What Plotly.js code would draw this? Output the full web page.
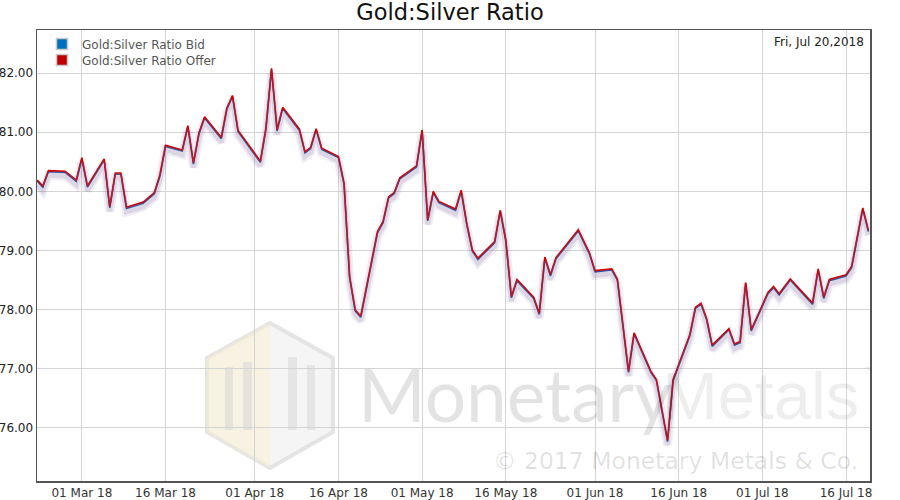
<!DOCTYPE html>
<html>
<head>
<meta charset="utf-8">
<script src="https://cdn.plot.ly/plotly-3.0.1.min.js"></script>
<style>html,body{margin:0;padding:0;background:#fff}#chart{width:900px;height:500px}</style>
</head>
<body>
<div id="chart"></div>
<script>
const dates = ["2018-02-21","2018-02-22","2018-02-23","2018-02-26","2018-02-28","2018-03-01","2018-03-02","2018-03-05","2018-03-06","2018-03-07",
"2018-03-08","2018-03-09","2018-03-12","2018-03-14","2018-03-15","2018-03-16","2018-03-19","2018-03-20","2018-03-21","2018-03-22",
"2018-03-23","2018-03-26","2018-03-27","2018-03-28","2018-03-29","2018-04-02","2018-04-03","2018-04-04","2018-04-05","2018-04-06",
"2018-04-09","2018-04-10","2018-04-11","2018-04-12","2018-04-13","2018-04-16","2018-04-17","2018-04-18","2018-04-19","2018-04-20",
"2018-04-23","2018-04-24","2018-04-25","2018-04-26","2018-04-27","2018-04-30","2018-05-01","2018-05-02","2018-05-03","2018-05-04",
"2018-05-07","2018-05-08","2018-05-09","2018-05-10","2018-05-11","2018-05-14","2018-05-15","2018-05-16","2018-05-17","2018-05-18",
"2018-05-21","2018-05-22","2018-05-23","2018-05-24","2018-05-25","2018-05-29","2018-05-31","2018-06-01","2018-06-04","2018-06-05",
"2018-06-07","2018-06-08","2018-06-11","2018-06-12","2018-06-14","2018-06-15","2018-06-18","2018-06-19","2018-06-20","2018-06-21",
"2018-06-22","2018-06-25","2018-06-26","2018-06-27","2018-06-28","2018-06-29","2018-07-02","2018-07-03","2018-07-04","2018-07-06",
"2018-07-10","2018-07-11","2018-07-12","2018-07-13","2018-07-16","2018-07-17","2018-07-19","2018-07-20"];

const bid = [80.17,80.07,80.33,80.32,80.17,80.55,80.07,80.53,79.72,80.29,
80.29,79.71,79.80,79.96,80.26,80.76,80.68,81.09,80.46,80.97,
81.24,80.89,81.39,81.60,81.01,80.49,81.05,82.06,81.02,81.40,
81.03,80.65,80.72,81.04,80.71,80.57,80.12,78.54,77.98,77.87,
79.30,79.47,79.89,79.96,80.21,80.41,81.02,79.50,79.98,79.81,
79.68,80.00,79.44,78.99,78.85,79.13,79.66,79.16,78.20,78.49,
78.19,77.92,78.87,78.57,78.86,79.33,78.94,78.64,78.67,78.50,
76.94,77.59,76.94,76.80,75.77,76.80,77.56,78.02,78.09,77.83,
77.38,77.66,77.40,77.44,78.44,77.64,78.27,78.37,78.25,78.50,
78.09,78.67,78.19,78.49,78.57,78.71,79.70,79.32];

const offer = [80.19,80.09,80.35,80.34,80.19,80.57,80.09,80.55,79.74,80.31,
80.31,79.73,79.82,79.98,80.28,80.78,80.70,81.11,80.48,80.99,
81.26,80.91,81.41,81.62,81.03,80.51,81.07,82.08,81.04,81.42,
81.05,80.67,80.74,81.06,80.73,80.59,80.14,78.56,78.00,77.89,
79.32,79.49,79.91,79.98,80.23,80.43,81.04,79.52,80.00,79.83,
79.70,80.02,79.46,79.01,78.87,79.15,79.68,79.18,78.22,78.51,
78.21,77.94,78.89,78.59,78.88,79.35,78.96,78.66,78.69,78.52,
76.96,77.61,76.96,76.82,75.79,76.82,77.58,78.04,78.11,77.85,
77.40,77.68,77.42,77.46,78.46,77.66,78.29,78.39,78.27,78.52,
78.11,78.69,78.21,78.51,78.59,78.73,79.72,79.34];

const tickDates = ["2018-03-01","2018-03-16","2018-04-01","2018-04-16","2018-05-01","2018-05-16","2018-06-01","2018-06-16","2018-07-01","2018-07-16"];
const tickLabels = ["01 Mar 18","16 Mar 18","01 Apr 18","16 Apr 18","01 May 18","16 May 18","01 Jun 18","16 Jun 18","01 Jul 18","16 Jul 18"];
const yTicks = [76,77,78,79,80,81,82];

const FONT = "DejaVu Sans, sans-serif";
const L = 37, T = 30, W = 833, H = 451;
const yLo = 75.104, yHi = 82.727;
const shadowShift = 3.5 * (yHi - yLo) / H;
function px(x){ return (x - L) / W; }
function py(y){ return 1 - (y - T) / H; }

const traces = [
  {x: dates, y: bid, yaxis: 'y2', type: 'scatter', mode: 'lines', showlegend: false, hoverinfo: 'skip',
   line: {color: 'rgba(110,90,150,0.10)', width: 9}},
  {x: dates, y: bid, yaxis: 'y2', type: 'scatter', mode: 'lines', showlegend: false, hoverinfo: 'skip',
   line: {color: 'rgba(110,90,150,0.16)', width: 5}},
  {x: dates, y: bid, type: 'scatter', mode: 'lines', name: 'Gold:Silver Ratio Bid', showlegend: false,
   line: {color: '#1f5fb0', width: 1.6}},
  {x: dates, y: offer, type: 'scatter', mode: 'lines', name: 'Gold:Silver Ratio Offer', showlegend: false,
   line: {color: '#d40000', width: 1.6}},
  {x: [null], y: [null], type: 'scatter', mode: 'markers', name: 'Gold:Silver Ratio Bid', legend: 'legend',
   marker: {symbol: 'square', size: 11, color: '#0070c0', line: {color: '#c8c8c8', width: 1.5}}},
  {x: [null], y: [null], type: 'scatter', mode: 'markers', name: 'Gold:Silver Ratio Offer', legend: 'legend2',
   marker: {symbol: 'square', size: 11, color: '#c00000', line: {color: '#c8c8c8', width: 1.5}}}
];

const hex = `M ${px(270)} ${py(323)} L ${px(333)} ${py(358)} L ${px(333)} ${py(432)} L ${px(270)} ${py(468)} L ${px(207)} ${py(432)} L ${px(207)} ${py(358)} Z`;
const hexLeft = `M ${px(270)} ${py(323)} L ${px(270)} ${py(468)} L ${px(207)} ${py(432)} L ${px(207)} ${py(358)} Z`;
function rect(x0,y0,x1,y1){
  return {type:'rect', xref:'paper', yref:'paper', layer:'below', x0:px(x0), x1:px(x1), y0:py(y1), y1:py(y0),
          fillcolor:'rgba(215,215,215,0.55)', line:{width:0}};
}
const legendBase = {xanchor: 'left', yanchor: 'top', bgcolor: 'rgba(0,0,0,0)',
                    font: {family: FONT, size: 12, color: '#555'}, itemwidth: 30};

const layout = {
  width: 900, height: 500,
  margin: {l: L, r: 900 - L - W, t: T, b: 500 - T - H, pad: 0},
  paper_bgcolor: '#ffffff', plot_bgcolor: 'rgba(0,0,0,0)',
  font: {family: FONT, size: 12, color: '#333'},
  title: {text: 'Gold:Silver Ratio', x: 0.5, xanchor: 'center', y: 0.975, yanchor: 'middle',
          font: {family: FONT, size: 22.5, color: '#111'}},
  showlegend: true,
  legend: Object.assign({x: px(42), y: py(29.5)}, legendBase),
  legend2: Object.assign({x: px(42), y: py(45.5)}, legendBase),
  xaxis: {type: 'date', range: ['2018-02-20 23:00', '2018-07-20 07:00'],
          tickmode: 'array', tickvals: tickDates, ticktext: tickLabels,
          showgrid: true, gridcolor: '#d4d4d4', gridwidth: 1,
          showline: true, linecolor: '#555', linewidth: 1.5, mirror: true,
          ticks: '', zeroline: false, fixedrange: true,
          tickfont: {family: FONT, size: 12, color: '#333'}},
  yaxis: {range: [yLo, yHi], tickmode: 'array', tickvals: yTicks, tickformat: '.2f',
          showgrid: true, gridcolor: '#d4d4d4', gridwidth: 1,
          showline: true, linecolor: '#555', linewidth: 1.5, mirror: true,
          ticks: '', zeroline: false, fixedrange: true,
          tickfont: {family: FONT, size: 12, color: '#222'}},
  yaxis2: {range: [yLo + shadowShift, yHi + shadowShift], overlaying: 'y', visible: false, fixedrange: true},
  shapes: [
    {type:'path', xref:'paper', yref:'paper', layer:'below', path: hex,
     fillcolor:'rgba(238,238,238,0.6)', line:{color:'rgba(222,222,222,0.8)', width:4}},
    {type:'path', xref:'paper', yref:'paper', layer:'below', path: hexLeft,
     fillcolor:'rgba(252,240,205,0.45)', line:{width:0}},
    rect(225,367,233,430), rect(243,362,252,430), rect(288,357,297,430), rect(307,365,315,430)
  ],
  annotations: [
    {xref:'paper', yref:'paper', x: 1, y: 1, xanchor:'right', yanchor:'top', xshift: -4, yshift: -3,
     text: 'Fri, Jul 20,2018', showarrow: false, font: {family: FONT, size: 12, color: '#222'}},
    {xref:'paper', yref:'paper', x: px(357), y: py(394), xanchor:'left', yanchor:'middle', showarrow:false,
     borderpad: 0,
     text: 'Monetary', font: {family: 'Lato, sans-serif', size: 73, color: 'rgba(0,0,0,0.11)'}},
    {xref:'paper', yref:'paper', x: px(860), y: py(395), xanchor:'right', yanchor:'middle', showarrow:false,
     borderpad: 0,
     text: 'Metals', font: {family: '"Liberation Sans Narrow", "Arial Narrow", sans-serif', size: 67, color: 'rgba(0,0,0,0.065)'}},
    {xref:'paper', yref:'paper', x: px(864), y: py(370), xanchor:'left', yanchor:'middle', showarrow:false, xshift: -3,
     text: '®', font: {family: FONT, size: 10, color: 'rgba(0,0,0,0.1)'}},
    {xref:'paper', yref:'paper', x: px(860), y: py(461), xanchor:'right', yanchor:'middle', showarrow:false,
     text: '© 2017 Monetary Metals & Co.', font: {family: FONT, size: 23.5, color: 'rgba(0,0,0,0.12)'}}
  ]
};

Plotly.newPlot('chart', traces, layout, {staticPlot: true, displayModeBar: false});
</script>
</body>
</html>
